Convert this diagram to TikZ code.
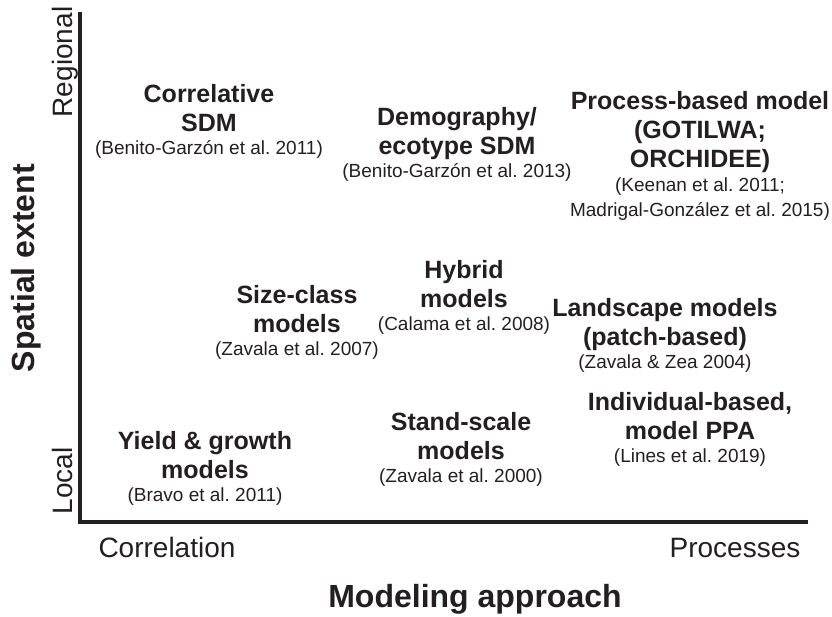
\documentclass[tikz,border=0pt]{standalone}
\usepackage{fontspec}
\setmainfont{Liberation Sans}
\frenchspacing
\usetikzlibrary{positioning}
\definecolor{Ink}{HTML}{231F20}
\tikzset{
 model/.style={font=\fontsize{25}{29}\selectfont\bfseries,align=center,
   text=Ink,inner sep=0pt,text depth=5pt},
 cite/.style={font=\fontsize{19}{25}\selectfont,align=center,text=Ink,inner sep=0pt},
 axlabel/.style={font=\fontsize{28}{32}\selectfont,text=Ink,inner sep=0pt,anchor=base},
 axtitle/.style={font=\fontsize{32}{36}\selectfont\bfseries,text=Ink,inner sep=0pt,anchor=base},
 axisline/.style={draw=Ink,line width=3.5pt,line join=miter}
}

\begin{document}
\begin{tikzpicture}[x=1pt,y=-1pt,node distance=4pt]
\useasboundingbox (0,0) rectangle (832,616);
% axes
\coordinate (top) at (80,12);
\coordinate (origin) at (80,522);
\coordinate (right) at (808,522);
\draw[axisline] (top) -- (origin) -- (right);
\node[axlabel,rotate=90] (regional) at (72,62) {Regional};
\node[axlabel,rotate=90] (local) at (72,481) {Local};
\node[axtitle,rotate=90] (yaxis) at (34,268) {Spatial extent};
\node[axlabel] (correlation) at (167,557) {Correlation};
\node[axlabel] (processes) at (735,557) {Processes};
\node[axtitle] (xaxis) at (475,607) {Modeling approach};
% regional models
\node[model] (corr) at (209,110) {Correlative\\SDM};
\node[cite,below=of corr] (corr-ref) {(Benito-Garzón et al. 2011)};
\node[model] (demo) at (457,133) {Demography/\\ecotype SDM};
\node[cite,below=of demo] (demo-ref) {(Benito-Garzón et al. 2013)};
\node[model] (proc) at (700,132) {Process-based model\\(GOTILWA;\\ORCHIDEE)};
\node[cite,below=5pt of proc] (proc-ref) {(Keenan et al. 2011;\\Madrigal-González et al. 2015)};
% intermediate
\node[model] (size) at (297,311) {Size-class\\models};
\node[cite,below=of size] (size-ref) {(Zavala et al. 2007)};
\node[model] (hybrid) at (464,286) {Hybrid\\models};
\node[cite,below=of hybrid] (hybrid-ref) {(Calama et al. 2008)};
\node[model] (land) at (665,324) {Landscape models\\(patch-based)};
\node[cite,below=of land] (land-ref) {(Zavala \& Zea 2004)};
% local models
\node[model] (indiv) at (690,418) {Individual-based,\\model PPA};
\node[cite,below=of indiv] (indiv-ref) {(Lines et al. 2019)};
\node[model] (stand) at (461,438) {Stand-scale\\models};
\node[cite,below=of stand] (stand-ref) {(Zavala et al. 2000)};
\node[model] (yield) at (205,457) {Yield \& growth\\models};
\node[cite,below=of yield] (yield-ref) {(Bravo et al. 2011)};
\end{tikzpicture}
\end{document}
